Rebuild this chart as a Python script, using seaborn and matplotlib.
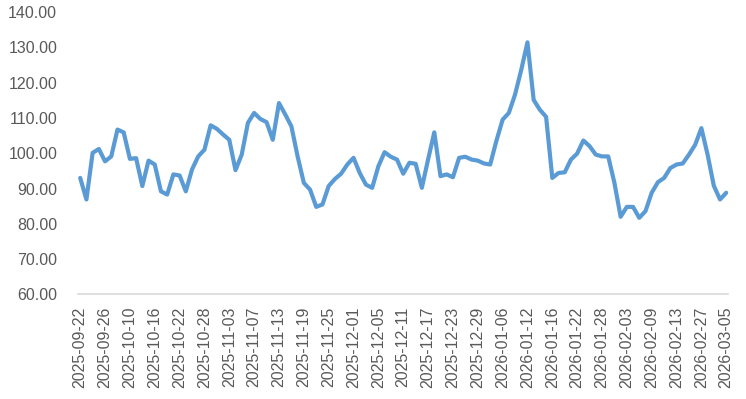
import pandas as pd
import seaborn as sns
import matplotlib
matplotlib.use("Agg")
import matplotlib.pyplot as plt

# trading days, Chinese market holidays removed
start_date = "2025-09-22"
end_date = "2026-03-05"
holidays = ["2025-10-01", "2025-10-02", "2025-10-03", "2025-10-06", "2025-10-07", "2025-10-08",
            "2026-01-01", "2026-01-02",
            "2026-02-16", "2026-02-17", "2026-02-18", "2026-02-19", "2026-02-20", "2026-02-23"]

values = [93.0, 86.9, 100.1, 101.2, 97.7, 99.1, 106.7, 105.9, 98.4, 98.6,
          90.7, 97.9, 96.8, 89.2, 88.3, 94.0, 93.7, 89.2, 95.4, 99.1,
          101.0, 107.9, 106.9, 105.3, 103.8, 95.2, 99.6, 108.6, 111.4, 109.7,
          108.8, 103.8, 114.2, 111.0, 107.6, 99.1, 91.6, 89.7, 84.8, 85.5,
          90.7, 92.7, 94.2, 96.8, 98.7, 94.4, 91.1, 90.2, 96.3, 100.3,
          99.0, 98.2, 94.2, 97.3, 97.0, 90.2, 98.2, 105.9, 93.5, 94.0,
          93.2, 98.7, 99.0, 98.2, 97.9, 97.1, 96.8, 103.5, 109.5, 111.4,
          116.6, 123.6, 131.4, 115.1, 112.3, 110.3, 93.0, 94.4, 94.6, 98.2,
          99.9, 103.6, 102.0, 99.6, 99.1, 99.1, 91.6, 82.0, 84.8, 84.8,
          81.7, 83.6, 88.8, 91.8, 93.0, 95.8, 96.8, 97.1, 99.6, 102.4,
          107.1, 99.6, 90.8, 86.9, 88.8]

days = pd.bdate_range(start_date, end_date)
days = days[~days.isin(pd.to_datetime(holidays))]
dates = [d.strftime("%Y-%m-%d") for d in days]

df = pd.DataFrame({"pos": range(len(values)), "value": values})

sns.set_style("white")
plt.rcParams['font.family'] = ['Liberation Sans', 'DejaVu Sans']

fig = plt.figure(figsize=(7.46, 3.99), dpi=100)
ax = fig.add_axes([0.1046, 0.262, 0.8714, 0.708])
sns.lineplot(data=df, x="pos", y="value", color="#5B9BD5", linewidth=3.0, ax=ax)
for line in ax.lines:
    line.set_solid_joinstyle("round")
    line.set_solid_capstyle("round")

ax.set_xlim(-0.35, len(values) - 0.7)
ax.set_ylim(60, 140)
ax.set_yticks(range(60, 141, 10))
ax.set_yticklabels([f"{v:.2f}" for v in range(60, 141, 10)])
tick_pos = list(range(0, len(dates), 4))
ax.set_xticks(tick_pos)
ax.set_xticklabels([dates[i] for i in tick_pos], rotation=90)
ax.tick_params(axis="both", length=0, labelsize=11.5, labelcolor="#595959")
ax.tick_params(axis="y", pad=15)
ax.tick_params(axis="x", pad=9)
ax.set_xlabel("")
ax.set_ylabel("")

for side in ["top", "right", "left"]:
    ax.spines[side].set_visible(False)
ax.spines["bottom"].set_color("#D9D9D9")
ax.spines["bottom"].set_linewidth(1.2)

fig.savefig("out.png", dpi=100)
